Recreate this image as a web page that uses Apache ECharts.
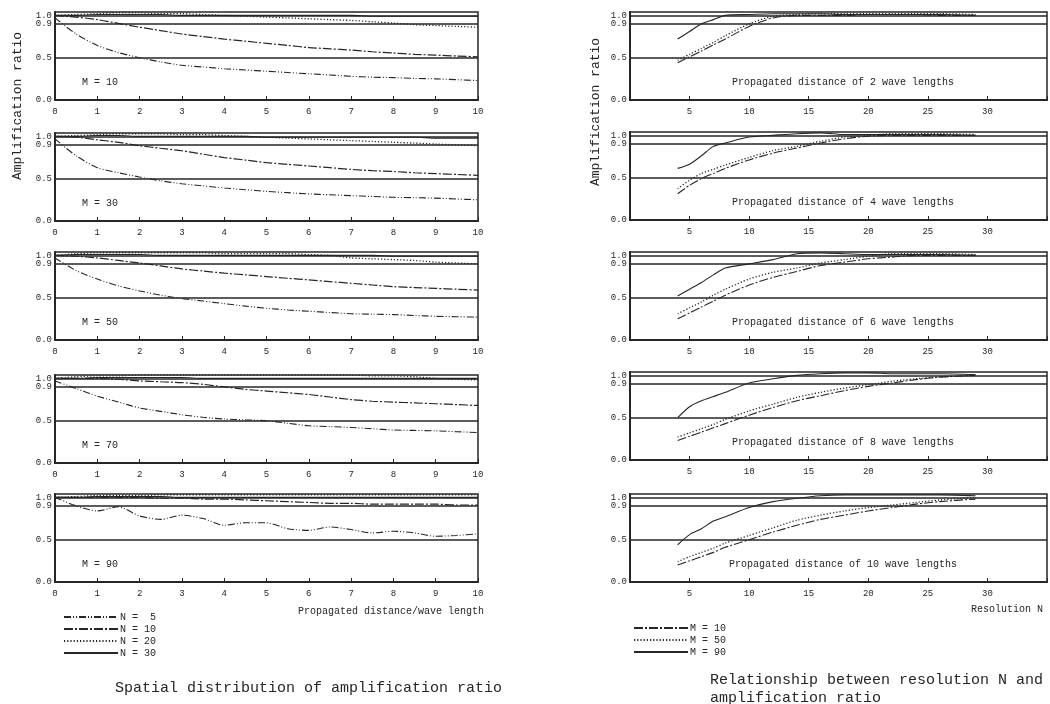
<!DOCTYPE html>
<html>
<head>
<meta charset="utf-8">
<script src="https://cdn.jsdelivr.net/npm/echarts@6/dist/echarts.min.js"></script>
<style>
html,body{margin:0;padding:0;background:#fff;}
#chart{width:1050px;height:704px;}
</style>
</head>
<body>
<div id="chart"></div>
<script>
// ---------- Left column: spatial distribution (x = propagated distance / wave length)
const xLeft = [0,0.5,1,1.5,2,2.5,3,3.5,4,4.5,5,5.5,6,6.5,7,7.5,8,8.5,9,9.5,10];
const leftPanelLabels = ['M = 10','M = 30','M = 50','M = 70','M = 90'];
const leftSeriesNames = ['N =  5','N = 10','N = 20','N = 30'];

const m10_n5  = [0.97,0.78,0.645,0.56,0.50,0.45,0.41,0.39,0.37,0.355,0.34,0.325,0.31,0.295,0.28,0.27,0.265,0.255,0.25,0.24,0.23];
const m10_n10 = [1.0,0.98,0.95,0.905,0.86,0.82,0.78,0.75,0.72,0.695,0.67,0.645,0.62,0.605,0.59,0.57,0.555,0.54,0.53,0.52,0.51];
const m10_n20 = [1.0,1.01,1.02,1.03,1.03,1.02,1.02,1.01,1.0,0.99,0.98,0.97,0.96,0.95,0.94,0.925,0.91,0.89,0.88,0.87,0.86];
const m10_n30 = [1.0,1.0,1.01,1.01,1.01,1.01,1.0,1.0,1.0,1.0,1.0,1.0,1.0,1.0,1.0,0.99,0.99,0.99,0.99,0.99,0.99];

const m30_n5  = [0.97,0.77,0.63,0.57,0.52,0.475,0.44,0.415,0.39,0.37,0.35,0.335,0.32,0.31,0.30,0.29,0.28,0.275,0.27,0.26,0.25];
const m30_n10 = [1.0,0.99,0.96,0.93,0.89,0.86,0.83,0.79,0.75,0.72,0.69,0.67,0.65,0.63,0.61,0.595,0.585,0.57,0.56,0.55,0.54];
const m30_n20 = [1.0,1.01,1.02,1.03,1.03,1.03,1.02,1.02,1.01,1.0,0.99,0.98,0.97,0.96,0.95,0.94,0.93,0.92,0.91,0.90,0.89];
const m30_n30 = [1.0,1.0,1.01,1.01,1.0,1.0,1.0,1.0,1.0,1.0,0.99,0.99,0.99,0.99,0.99,0.99,0.99,0.99,0.98,0.98,0.98];

const m50_n5  = [0.97,0.82,0.72,0.64,0.58,0.53,0.49,0.46,0.43,0.40,0.375,0.355,0.34,0.325,0.31,0.305,0.30,0.29,0.28,0.275,0.27];
const m50_n10 = [1.0,0.99,0.97,0.94,0.91,0.875,0.84,0.815,0.79,0.77,0.75,0.73,0.71,0.69,0.67,0.65,0.63,0.62,0.61,0.60,0.59];
const m50_n20 = [1.0,1.02,1.03,1.03,1.03,1.03,1.03,1.03,1.02,1.02,1.02,1.02,1.01,1.0,0.97,0.96,0.95,0.94,0.92,0.91,0.90];
const m50_n30 = [1.0,1.01,1.01,1.01,1.01,1.0,1.0,1.0,1.0,1.0,1.0,1.0,1.0,1.0,1.0,1.0,0.99,0.99,0.99,0.99,0.99];

const m70_n5  = [0.97,0.88,0.79,0.72,0.65,0.61,0.57,0.54,0.52,0.51,0.50,0.47,0.44,0.43,0.42,0.405,0.39,0.385,0.38,0.37,0.36];
const m70_n10 = [1.0,1.0,1.0,0.99,0.97,0.96,0.95,0.93,0.90,0.87,0.85,0.83,0.81,0.78,0.75,0.73,0.72,0.71,0.70,0.69,0.68];
const m70_n20 = [1.0,1.02,1.03,1.03,1.04,1.04,1.04,1.04,1.04,1.04,1.04,1.04,1.04,1.04,1.04,1.03,1.03,1.02,1.0,0.99,0.98];
const m70_n30 = [1.0,1.0,1.01,1.01,1.01,1.01,1.01,1.0,1.0,1.0,1.0,1.0,1.0,1.0,1.0,1.0,1.0,1.0,1.0,1.0,1.0];

const m90_n5  = [1.0,0.90,0.84,0.89,0.78,0.74,0.79,0.75,0.67,0.70,0.70,0.63,0.61,0.65,0.62,0.58,0.60,0.58,0.54,0.55,0.57];
const m90_n10 = [1.0,1.0,1.0,1.0,1.0,0.99,0.99,0.98,0.98,0.97,0.96,0.95,0.94,0.93,0.93,0.92,0.92,0.92,0.92,0.91,0.91];
const m90_n20 = [1.0,1.01,1.02,1.02,1.02,1.03,1.03,1.03,1.03,1.03,1.03,1.03,1.03,1.03,1.03,1.03,1.03,1.03,1.03,1.03,1.03];
const m90_n30 = [1.0,1.0,1.01,1.01,1.01,1.01,1.0,1.0,1.0,1.0,1.0,1.0,1.0,1.0,1.0,1.0,1.0,1.0,1.0,1.0,1.0];

const leftData = [
  [m10_n5, m10_n10, m10_n20, m10_n30],
  [m30_n5, m30_n10, m30_n20, m30_n30],
  [m50_n5, m50_n10, m50_n20, m50_n30],
  [m70_n5, m70_n10, m70_n20, m70_n30],
  [m90_n5, m90_n10, m90_n20, m90_n30]
];

// ---------- Right column: relationship between resolution N and amplification ratio
const xRight = [4,5,6,7,8,10,12,14,16,18,20,22,24,26,29];
const rightPanelLabels = ['Propagated distance of 2 wave lengths','Propagated distance of 4 wave lengths',
  'Propagated distance of 6 wave lengths','Propagated distance of 8 wave lengths','Propagated distance of 10 wave lengths'];
const rightSeriesNames = ['M = 10','M = 50','M = 90'];

const d2_m10 = [0.44,0.51,0.58,0.65,0.72,0.87,0.97,1.0,1.0,1.0,1.01,1.01,1.01,1.0,1.0];
const d2_m50 = [0.47,0.54,0.61,0.68,0.76,0.90,0.99,1.01,1.02,1.02,1.02,1.02,1.02,1.02,1.01];
const d2_m90 = [0.72,0.81,0.90,0.95,1.0,1.01,1.02,1.02,1.02,1.01,1.01,1.01,1.01,1.01,1.0];

const d4_m10 = [0.31,0.41,0.49,0.55,0.61,0.71,0.79,0.85,0.91,0.96,0.99,1.0,1.0,1.0,1.0];
const d4_m50 = [0.37,0.47,0.55,0.60,0.65,0.74,0.82,0.87,0.93,0.98,1.0,1.02,1.02,1.02,1.01];
const d4_m90 = [0.61,0.66,0.76,0.87,0.91,0.98,1.0,1.02,1.03,1.01,1.01,1.01,1.01,1.01,1.0];

const d6_m10 = [0.25,0.32,0.39,0.46,0.53,0.65,0.74,0.81,0.88,0.92,0.96,0.98,1.0,1.0,1.0];
const d6_m50 = [0.31,0.38,0.45,0.53,0.60,0.72,0.80,0.85,0.91,0.95,0.99,1.02,1.02,1.02,1.01];
const d6_m90 = [0.52,0.60,0.68,0.77,0.85,0.90,0.95,1.02,1.03,1.02,1.01,1.01,1.01,1.01,1.0];

const d8_m10 = [0.23,0.28,0.33,0.38,0.43,0.53,0.62,0.70,0.76,0.82,0.87,0.91,0.95,0.98,1.0];
const d8_m50 = [0.27,0.32,0.37,0.42,0.48,0.58,0.66,0.74,0.80,0.85,0.89,0.93,0.96,0.98,1.0];
const d8_m90 = [0.50,0.63,0.70,0.75,0.80,0.91,0.96,1.0,1.02,1.03,1.03,1.02,1.02,1.02,1.01];

const d10_m10 = [0.20,0.25,0.30,0.35,0.41,0.50,0.59,0.67,0.74,0.79,0.84,0.88,0.92,0.95,0.98];
const d10_m50 = [0.24,0.30,0.35,0.40,0.46,0.55,0.64,0.73,0.79,0.84,0.88,0.91,0.94,0.97,1.0];
const d10_m90 = [0.44,0.56,0.63,0.72,0.77,0.88,0.95,0.99,1.02,1.03,1.03,1.03,1.03,1.03,1.02];

const rightData = [
  [d2_m10, d2_m50, d2_m90],
  [d4_m10, d4_m50, d4_m90],
  [d6_m10, d6_m50, d6_m90],
  [d8_m10, d8_m50, d8_m90],
  [d10_m10, d10_m50, d10_m90]
];

const refLines = [0.5, 0.9, 1.0];
const yTickLabels = {'0':'0.0','0.5':'0.5','0.9':'0.9','1':'1.0'};

// ---------- Layout & style
const FONT = 'Liberation Mono';
const INK = '#262626';
const leftBottoms = [100, 221, 340, 463, 582];
const rightBottoms = [100, 220, 340, 460, 582];
const PH = 88;

const leftStyles = [
  {type:[7,2,1,2,1,2], width:1.1},
  {type:[9,2,2,2], width:1.2},
  {type:[1.2,2], width:1.3},
  {type:'solid', width:1.1}
];
const rightStyles = [
  {type:[9,2,2,2], width:1.1},
  {type:[1.2,2], width:1.3},
  {type:'solid', width:1.1}
];

const grids = [], xAxes = [], yAxes = [], series = [], graphics = [];

function yAxisFor(i){
  return {
    gridIndex:i, type:'value', min:0, max:1.04, interval:0.1,
    axisLine:{show:true, lineStyle:{color:INK, width:2}},
    axisTick:{show:false}, splitLine:{show:false},
    axisLabel:{
      fontFamily:FONT, fontSize:9, color:INK, margin:3,
      showMaxLabel:false,
      formatter:v => { const k = String(Math.round(v*100)/100); return yTickLabels[k] || ''; }
    }
  };
}

function refMarkLine(){
  return {silent:true, symbol:['none','none'], label:{show:false}, animation:false,
    lineStyle:{type:'solid', color:INK, width:1.5},
    data:refLines.map(v=>({yAxis:v}))};
}

leftBottoms.forEach((b,i) => {
  grids.push({left:55, width:423, top:b-PH, height:PH, show:true, borderColor:INK, borderWidth:1.5, backgroundColor:'transparent'});
  xAxes.push({
    gridIndex:i, type:'value', min:0, max:10, interval:1,
    axisLine:{show:true, lineStyle:{color:INK, width:2}},
    axisTick:{show:true, inside:true, length:4, lineStyle:{color:INK}},
    splitLine:{show:false},
    axisLabel:{fontFamily:FONT, fontSize:9, color:INK, margin:7}
  });
  yAxes.push(yAxisFor(i));
  leftData[i].forEach((arr,k) => {
    const s = {
      type:'line', name:leftSeriesNames[k], xAxisIndex:i, yAxisIndex:i,
      data:xLeft.map((x,j)=>[x, arr[j]]), symbol:'none', smooth:0.25,
      lineStyle:Object.assign({color:INK}, leftStyles[k]), itemStyle:{color:INK},
      silent:true, animation:false
    };
    if (k === 3) s.markLine = refMarkLine();
    series.push(s);
  });
  graphics.push({type:'text', left:82, top:b-23, style:{text:leftPanelLabels[i], font:'10px "Liberation Mono"', fill:INK}});
});

rightBottoms.forEach((b,ii) => {
  const i = ii + 5;
  grids.push({left:630, width:424, top:b-PH, height:PH, show:true, borderColor:INK, borderWidth:1.5, backgroundColor:'transparent'});
  xAxes.push({
    gridIndex:i, type:'value', min:0, max:35, interval:5,
    axisLine:{show:true, lineStyle:{color:INK, width:2}},
    axisTick:{show:true, inside:true, length:4, lineStyle:{color:INK}},
    splitLine:{show:false},
    axisLabel:{fontFamily:FONT, fontSize:9, color:INK, margin:7,
      formatter:v => (v>0 && v<35) ? String(v) : ''}
  });
  yAxes.push(yAxisFor(i));
  rightData[ii].forEach((arr,k) => {
    const s = {
      type:'line', name:rightSeriesNames[k], xAxisIndex:i, yAxisIndex:i,
      data:xRight.map((x,j)=>[x, arr[j]]), symbol:'none', smooth:0.25,
      lineStyle:Object.assign({color:INK}, rightStyles[k]), itemStyle:{color:INK},
      silent:true, animation:false
    };
    if (k === 2) s.markLine = refMarkLine();
    series.push(s);
  });
  graphics.push({type:'text', x:843, y:b-18, style:{text:rightPanelLabels[ii], font:'10px "Liberation Mono"', fill:INK, align:'center', verticalAlign:'middle'}});
});

// Axis titles and captions
graphics.push(
  {type:'text', x:18, y:106, rotation:Math.PI/2, style:{text:'Amplification ratio', font:'13px "Liberation Mono"', fill:INK, align:'center', verticalAlign:'middle'}},
  {type:'text', x:596, y:112, rotation:Math.PI/2, style:{text:'Amplification ratio', font:'13px "Liberation Mono"', fill:INK, align:'center', verticalAlign:'middle'}},
  {type:'text', x:298, y:611, style:{text:'Propagated distance/wave length', font:'10px "Liberation Mono"', fill:INK, verticalAlign:'middle'}},
  {type:'text', x:971, y:609, style:{text:'Resolution N', font:'10px "Liberation Mono"', fill:INK, verticalAlign:'middle'}},
  {type:'text', x:115, y:688, style:{text:'Spatial distribution of amplification ratio', font:'15px "Liberation Mono"', fill:INK, verticalAlign:'middle'}},
  {type:'text', x:710, y:680, style:{text:'Relationship between resolution N and', font:'15px "Liberation Mono"', fill:INK, verticalAlign:'middle'}},
  {type:'text', x:710, y:698, style:{text:'amplification ratio', font:'15px "Liberation Mono"', fill:INK, verticalAlign:'middle'}}
);

const legendCommon = {
  orient:'vertical', padding:0, itemWidth:54, itemHeight:10, itemGap:2,
  itemStyle:{opacity:0, borderWidth:0},
  textStyle:{fontFamily:FONT, fontSize:10, color:INK, padding:[0,0,0,-3]},
  selectedMode:false
};

const chart = echarts.init(document.getElementById('chart'), null, {renderer:'canvas'});
chart.setOption({
  backgroundColor:'#ffffff',
  animation:false,
  grid:grids, xAxis:xAxes, yAxis:yAxes, series:series,
  legend:[
    Object.assign({data:leftSeriesNames, left:63, top:612}, legendCommon),
    Object.assign({data:rightSeriesNames, left:633, top:623}, legendCommon)
  ],
  graphic:graphics
});
</script>
</body>
</html>
